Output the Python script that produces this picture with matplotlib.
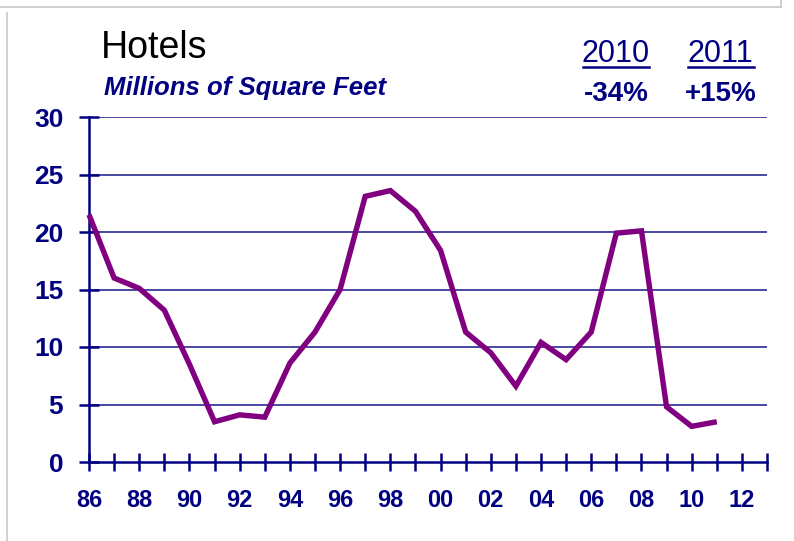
import matplotlib
matplotlib.use("Agg")
import matplotlib.pyplot as plt
from matplotlib.lines import Line2D

years = list(range(1986, 2012))
values = [21.5, 16.0, 15.1, 13.2, 8.5, 3.5, 4.1, 3.9, 8.6, 11.3, 15.0, 23.1,
          23.6, 21.8, 18.4, 11.3, 9.5, 6.6, 10.4, 8.9, 11.3, 19.9, 20.1,
          4.8, 3.1, 3.5]
xtick_years = list(range(1986, 2013, 2))
xtick_labels = ["86", "88", "90", "92", "94", "96", "98", "00", "02", "04",
                "06", "08", "10", "12"]
yticks = [0, 5, 10, 15, 20, 25, 30]
change_years = ["2010", "2011"]
change_values = ["-34%", "+15%"]

NAVY = "#000080"
plt.rcParams['font.family'] = ['Liberation Sans', 'DejaVu Sans']

fig = plt.figure(figsize=(7.94, 5.41), dpi=100)
W, H = 794, 541
ax = fig.add_axes([89 / W, (H - 462) / H, (767 - 89) / W, (462 - 117) / H])

ax.plot(years, values, color="#800080", lw=3.9, solid_joinstyle="miter",
        solid_capstyle="butt", zorder=3, clip_on=False)

ax.set_xlim(1986, 2013)
ax.set_ylim(0, 30)
ax.set_yticks(yticks)
ax.set_yticklabels([str(v) for v in yticks])
ax.set_xticks(range(1986, 2014))
ax.set_xticklabels([xtick_labels[xtick_years.index(y)] if y in xtick_years else ""
                    for y in range(1986, 2014)])
for y in yticks[1:]:
    ax.axhline(y, color="#3a3a9a", lw=1.3, zorder=1)

for s in ["top", "right"]:
    ax.spines[s].set_visible(False)
for s in ["left", "bottom"]:
    ax.spines[s].set_color(NAVY)
    ax.spines[s].set_linewidth(1.8)
ax.tick_params(axis="both", direction="inout", width=1.8,
               color=NAVY, labelcolor=NAVY)
ax.tick_params(axis="y", length=15, pad=11, labelsize=19)
ax.tick_params(axis="x", length=13, pad=13, labelsize=17)
for lab in ax.get_xticklabels() + ax.get_yticklabels():
    lab.set_fontweight("bold")

# Titles
fig.text(101 / W, 1 - 57.5 / H, "Hotels", fontsize=27, color="black",
         ha="left", va="baseline")
fig.text(104 / W, 1 - 95 / H, "Millions of Square Feet", fontsize=18.5,
         color=NAVY, fontweight="bold", fontstyle="italic", ha="left",
         va="baseline")

xs = [616, 720.5]
for x, yr, ch in zip(xs, change_years, change_values):
    fig.text(x / W, 1 - 62.3 / H, yr, fontsize=22, color=NAVY,
             ha="center", va="baseline")
    fig.add_artist(Line2D([(x - 33) / W, (x + 33) / W],
                          [1 - 67 / H, 1 - 67 / H], color=NAVY, lw=1.8))
    fig.text(x / W, 1 - 101 / H, ch, fontsize=20, color=NAVY,
             fontweight="bold", ha="center", va="baseline")

# Frame lines
fig.add_artist(Line2D([0, 781 / W], [1 - 7 / H, 1 - 7 / H], color="#c8c8c8", lw=1.2))
fig.add_artist(Line2D([781 / W, 781 / W], [1 - 7 / H, 1], color="#c8c8c8", lw=1.2))
fig.add_artist(Line2D([7 / W, 7 / W], [0, 1 - 13 / H], color="#c8c8c8", lw=1.2))

fig.savefig("out.png", dpi=100)
